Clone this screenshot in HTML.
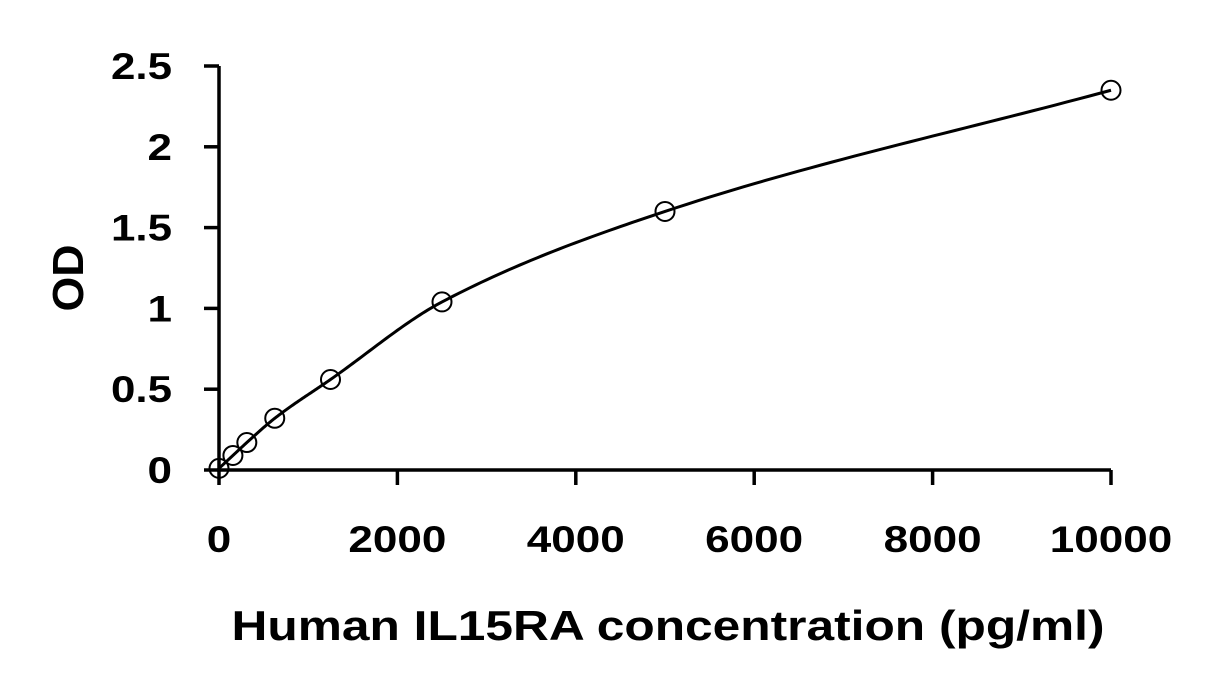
<!DOCTYPE html>
<html><head><meta charset="utf-8"><style>
body{margin:0;background:#fff}
svg{display:block;font-family:"Liberation Sans",Arial,sans-serif;font-weight:bold}
</style></head><body>
<svg id="chart" width="1231" height="692" viewBox="0 0 1231 692">
<g id="axes"></g>
<g id="marks"></g>
<text transform="translate(83,278) rotate(-90)" text-anchor="middle" font-size="44" textLength="67" lengthAdjust="spacingAndGlyphs">OD</text>
<text x="668" y="640" text-anchor="middle" font-size="42" textLength="873" lengthAdjust="spacingAndGlyphs">Human IL15RA concentration (pg/ml)</text>
</svg>
<script>
const concentrations=[0,156,312,625,1250,2500,5000,10000];
const odValues=[0.01,0.09,0.17,0.32,0.56,1.04,1.6,2.35];
const xTicks=[0,2000,4000,6000,8000,10000];
const yTicks=[0,0.5,1,1.5,2,2.5];
const yTickLabels=["0","0.5","1","1.5","2","2.5"];
const NS="http://www.w3.org/2000/svg";
const x0=219,x1=1111,y0=470,y1=66;
const xs=v=>x0+(v/10000)*(x1-x0);
const ys=v=>y0-(v/2.5)*(y0-y1);
function mk(t,a,p){const e=document.createElementNS(NS,t);for(const k in a)e.setAttribute(k,a[k]);p.appendChild(e);return e;}
function lenOf(s){let w=0;for(const ch of s)w+=(ch==='.')?12:24.5;return w;}
const ax=document.getElementById('axes');
let l=mk('line',{x1:x0,y1:y1,x2:x0,y2:y0+1,stroke:'#000','stroke-width':3.5},ax);


l=mk('line',{x1:x0-2,y1:y0,x2:x1,y2:y0,stroke:'#000','stroke-width':3.5},ax);


yTicks.forEach((v,i)=>{
 const t=mk('line',{x1:x0-15,y1:ys(v),x2:x0,y2:ys(v),stroke:'#000','stroke-width':3.5},ax);
 
 
 const tx=mk('text',{x:172,y:ys(v)+13,'text-anchor':'end','font-size':37,textLength:lenOf(yTickLabels[i]),lengthAdjust:'spacingAndGlyphs'},ax);
 tx.textContent=yTickLabels[i];
 
 
});
xTicks.forEach(v=>{
 const t=mk('line',{x1:xs(v),y1:y0,x2:xs(v),y2:y0+15,stroke:'#000','stroke-width':3.5},ax);
 
 
 const s=String(v);
 const tx=mk('text',{x:xs(v),y:552,'text-anchor':'middle','font-size':37,textLength:lenOf(s),lengthAdjust:'spacingAndGlyphs'},ax);
 tx.textContent=s;
 
 
});
const mg=document.getElementById('marks');
// monotone cubic (Fritsch-Carlson) in data space
const n=concentrations.length;
const dx=[],sl=[];
for(let i=0;i<n-1;i++){dx.push(concentrations[i+1]-concentrations[i]);sl.push((odValues[i+1]-odValues[i])/dx[i]);}
const m=[sl[0]];
for(let i=1;i<n-1;i++){
 if(sl[i-1]*sl[i]<=0)m.push(0);
 else{const w1=2*dx[i]+dx[i-1],w2=dx[i]+2*dx[i-1];m.push((w1+w2)/(w1/sl[i-1]+w2/sl[i]));}
}
m.push(sl[n-2]);
let d='M'+xs(concentrations[0])+','+ys(odValues[0]);
for(let i=0;i<n-1;i++){
 const h=dx[i];
 for(let k=1;k<=40;k++){
  const t=k/40,t2=t*t,t3=t2*t;
  const y=(2*t3-3*t2+1)*odValues[i]+(t3-2*t2+t)*h*m[i]+(-2*t3+3*t2)*odValues[i+1]+(t3-t2)*h*m[i+1];
  d+=' L'+xs(concentrations[i]+t*h).toFixed(2)+','+ys(y).toFixed(2);
 }
}
const path=mk('path',{d:d,fill:'none',stroke:'#000','stroke-width':3},mg);


concentrations.forEach((c,i)=>{
 const ci=mk('circle',{cx:xs(c),cy:ys(odValues[i]),r:9.5,fill:'none',stroke:'#000','stroke-width':2},mg);
 
 
});
</script>
</body></html>
